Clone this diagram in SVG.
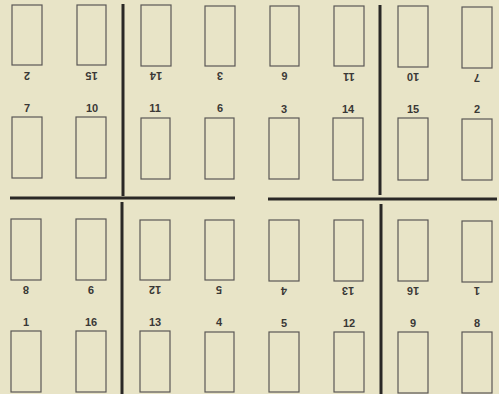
<svg xmlns="http://www.w3.org/2000/svg" width="499" height="394" viewBox="0 0 499 394">
<style>
.pg{fill:none;stroke:#5a5855;stroke-width:1.2}
.ln{stroke:#2a2826;stroke-width:3;fill:none}
text{font-family:"Liberation Sans",Arial,sans-serif;font-size:11px;font-weight:bold;fill:#3a3836;text-anchor:middle}
</style>
<rect width="499" height="394" fill="#e8e4c7"/>
<g id="connectors">
<line class="ln" x1="123" y1="4" x2="123" y2="196"/>
<line class="ln" x1="380" y1="5" x2="380" y2="195"/>
<line class="ln" x1="10" y1="198" x2="235" y2="198"/>
<line class="ln" x1="268" y1="199" x2="497" y2="199"/>
<line class="ln" x1="122" y1="202" x2="122" y2="394"/>
<line class="ln" x1="381" y1="204" x2="381" y2="394"/>
</g>
<g id="row1">
<g id="p2a"><rect class="pg" x="12" y="5" width="30" height="60"/><text transform="translate(27,76) rotate(180)" dy="4">2</text></g>
<g id="p15a"><rect class="pg" x="77" y="5" width="29" height="60"/><text transform="translate(91.5,76) rotate(180)" dy="4">15</text></g>
<g id="p14a"><rect class="pg" x="141" y="5" width="30" height="61"/><text transform="translate(156,76) rotate(180)" dy="4">14</text></g>
<g id="p3a"><rect class="pg" x="205" y="6" width="30" height="60"/><text transform="translate(220,76) rotate(180)" dy="4">3</text></g>
<g id="p6a"><rect class="pg" x="270" y="6" width="29" height="60"/><text transform="translate(284.5,76) rotate(180)" dy="4">6</text></g>
<g id="p11a"><rect class="pg" x="334" y="6" width="30" height="60"/><text transform="translate(349,77) rotate(180)" dy="4">11</text></g>
<g id="p10a"><rect class="pg" x="398" y="6" width="30" height="61"/><text transform="translate(413,77) rotate(180)" dy="4">10</text></g>
<g id="p7a"><rect class="pg" x="462" y="7" width="30" height="61"/><text transform="translate(477,78) rotate(180)" dy="4">7</text></g>
</g>
<g id="row2">
<g id="p7b"><rect class="pg" x="12" y="117" width="30" height="61"/><text x="27" y="112">7</text></g>
<g id="p10b"><rect class="pg" x="76" y="117" width="30" height="61"/><text x="92" y="112">10</text></g>
<g id="p11b"><rect class="pg" x="141" y="118" width="29" height="61"/><text x="155" y="112">11</text></g>
<g id="p6b"><rect class="pg" x="205" y="118" width="29" height="61"/><text x="220" y="112">6</text></g>
<g id="p3b"><rect class="pg" x="269" y="118" width="30" height="61"/><text x="284" y="113">3</text></g>
<g id="p14b"><rect class="pg" x="333" y="118" width="30" height="62"/><text x="348" y="113">14</text></g>
<g id="p15b"><rect class="pg" x="398" y="118" width="30" height="62"/><text x="413" y="113">15</text></g>
<g id="p2b"><rect class="pg" x="462" y="119" width="30" height="61"/><text x="477" y="113">2</text></g>
</g>
<g id="row3">
<g id="p8a"><rect class="pg" x="11" y="219" width="30" height="61"/><text transform="translate(26,290) rotate(180)" dy="4">8</text></g>
<g id="p9a"><rect class="pg" x="76" y="219" width="30" height="61"/><text transform="translate(91,290) rotate(180)" dy="4">9</text></g>
<g id="p12a"><rect class="pg" x="140" y="220" width="30" height="60"/><text transform="translate(155,290) rotate(180)" dy="4">12</text></g>
<g id="p5a"><rect class="pg" x="205" y="220" width="29" height="60"/><text transform="translate(219,290) rotate(180)" dy="4">5</text></g>
<g id="p4a"><rect class="pg" x="269" y="220" width="30" height="61"/><text transform="translate(284,291) rotate(180)" dy="4">4</text></g>
<g id="p13a"><rect class="pg" x="334" y="220" width="29" height="61"/><text transform="translate(348,291) rotate(180)" dy="4">13</text></g>
<g id="p16a"><rect class="pg" x="398" y="220" width="30" height="61"/><text transform="translate(413,291) rotate(180)" dy="4">16</text></g>
<g id="p1a"><rect class="pg" x="462" y="221" width="30" height="61"/><text transform="translate(477,291) rotate(180)" dy="4">1</text></g>
</g>
<g id="row4">
<g id="p1b"><rect class="pg" x="11" y="331" width="30" height="61"/><text x="26" y="326">1</text></g>
<g id="p16b"><rect class="pg" x="76" y="331" width="30" height="61"/><text x="91" y="326">16</text></g>
<g id="p13b"><rect class="pg" x="140" y="331" width="30" height="61"/><text x="155" y="326">13</text></g>
<g id="p4b"><rect class="pg" x="205" y="332" width="29" height="60"/><text x="219" y="326">4</text></g>
<g id="p5b"><rect class="pg" x="269" y="332" width="30" height="60"/><text x="284" y="327">5</text></g>
<g id="p12b"><rect class="pg" x="334" y="332" width="30" height="60"/><text x="349" y="327">12</text></g>
<g id="p9b"><rect class="pg" x="398" y="332" width="30" height="61"/><text x="413" y="327">9</text></g>
<g id="p8b"><rect class="pg" x="462" y="332" width="30" height="61"/><text x="477" y="327">8</text></g>
</g>
</svg>
